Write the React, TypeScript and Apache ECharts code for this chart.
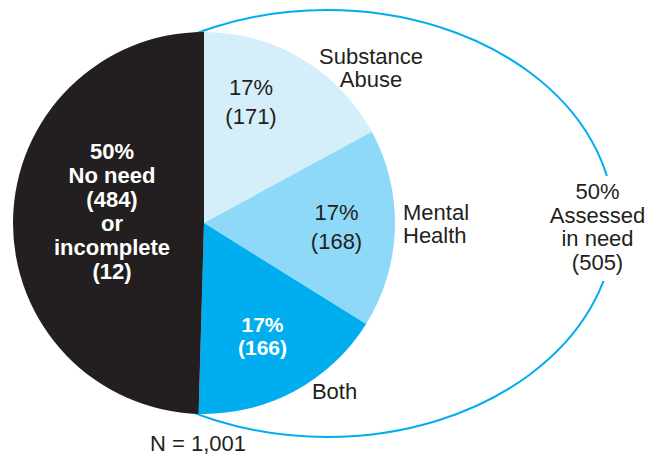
import React, { useEffect, useRef } from "react";
import * as echarts from "echarts";

// ---- Data ----
const categories = ["Substance Abuse", "Mental Health", "Both", "No need or incomplete"];
const counts = [171, 168, 166, 496];
const noNeedCount = 484;
const incompleteCount = 12;
const sliceColors = ["#D4EEFA", "#8ED8F8", "#00AEEF", "#231F20"];
const outsideLabels = ["Substance\nAbuse", "Mental\nHealth", "Both"];

const total = counts.reduce((a, b) => a + b, 0);
const assessed = counts[0] + counts[1] + counts[2];
const pct = (v: number) => Math.round((v / total) * 100) + "%";
const fmt = (n: number) => n.toLocaleString("en-US");

const FONT = "'Liberation Sans', Arial, Helvetica, sans-serif";
const DARK = "#231F20";

function txt(text: string, x: number, y: number, opts: any = {}) {
  return {
    type: "text",
    x,
    y,
    z: 10,
    silent: true,
    style: {
      text,
      fill: opts.fill || DARK,
      fontSize: opts.fontSize || 22,
      fontFamily: FONT,
      fontWeight: opts.bold ? "bold" : "normal",
      align: opts.align || "center",
      verticalAlign: "middle",
      lineHeight: opts.lineHeight || 23.5,
    },
  };
}

export default function App() {
  const ref = useRef<HTMLDivElement>(null);

  useEffect(() => {
    if (!ref.current) return;
    const chart = echarts.init(ref.current, null, { renderer: "svg" });
    const option: any = {
      animation: false,
      backgroundColor: "#ffffff",
      series: [
        {
          type: "pie",
          center: [204, 223],
          radius: [0, 191],
          startAngle: 90,
          clockwise: true,
          silent: true,
          label: { show: false },
          labelLine: { show: false },
          emphasis: { disabled: true },
          data: categories.map((name, i) => ({
            name,
            value: counts[i],
            itemStyle: { color: sliceColors[i] },
          })),
        },
      ],
      graphic: {
        elements: [
          {
            type: "ellipse",
            z: 0,
            silent: true,
            shape: { cx: 327, cy: 223.5, rx: 287, ry: 213.5 },
            style: { fill: "none", stroke: "#00AEEF", lineWidth: 2 },
          },
          {
            type: "rect",
            z: 1,
            silent: true,
            shape: { x: 592, y: 176, width: 34, height: 105 },
            style: { fill: "#ffffff" },
          },
          // inside slice labels
          txt(`${pct(counts[0])}\n(${fmt(counts[0])})`, 251, 101.5, { lineHeight: 29 }),
          txt(`${pct(counts[1])}\n(${fmt(counts[1])})`, 336.5, 226.8, { lineHeight: 28.5 }),
          txt(`${pct(counts[2])}\n(${fmt(counts[2])})`, 262.5, 336, {
            lineHeight: 23.5,
            fontSize: 21,
            bold: true,
            fill: "#ffffff",
          }),
          txt(
            `${pct(counts[3])}\nNo need\n(${fmt(noNeedCount)})\nor\nincomplete\n(${fmt(incompleteCount)})`,
            112,
            211.8,
            { lineHeight: 24, bold: true, fill: "#ffffff" }
          ),
          // outside labels
          txt(outsideLabels[0], 371, 67.8),
          txt(outsideLabels[1], 403, 224, { align: "left" }),
          txt(outsideLabels[2], 334.5, 391),
          txt(`${pct(assessed)}\nAssessed\nin need\n(${fmt(assessed)})`, 597.5, 227, {
            lineHeight: 23.8,
          }),
          txt(`N = ${fmt(total)}`, 150, 443.5, { align: "left" }),
        ],
      },
    };
    chart.setOption(option);
    return () => chart.dispose();
  }, []);

  return (
    <div
      ref={ref}
      style={{ position: "absolute", left: 0, top: 0, width: 654, height: 456 }}
    />
  );
}
